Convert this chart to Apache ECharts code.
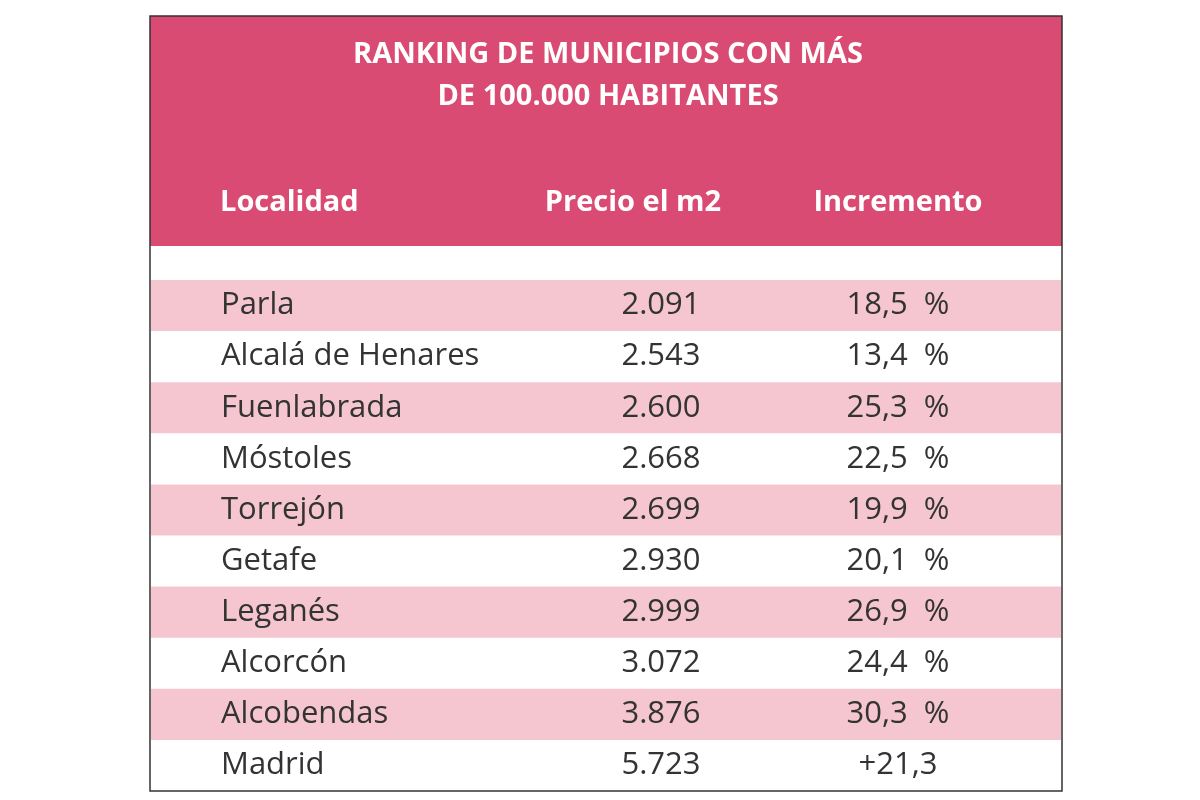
<!DOCTYPE html>
<html lang="es">
<head>
<meta charset="UTF-8">
<title>Ranking de municipios</title>
<script src="https://cdn.jsdelivr.net/npm/echarts@6/dist/echarts.min.js"></script>
<style>
  body { margin: 0; background: #fff; }
  #chart { width: 1200px; height: 800px; }
</style>
</head>
<body>
<div id="chart"></div>
<script>
const titleText = 'RANKING DE MUNICIPIOS CON MÁS\nDE 100.000 HABITANTES';
const headers = ['Localidad', 'Precio el m2', 'Incremento'];
const localidades = ['Parla', 'Alcalá de Henares', 'Fuenlabrada', 'Móstoles', 'Torrejón',
  'Getafe', 'Leganés', 'Alcorcón', 'Alcobendas', 'Madrid'];
const precios = ['2.091', '2.543', '2.600', '2.668', '2.699', '2.930', '2.999', '3.072', '3.876', '5.723'];
const incrementos = ['18,5  %', '13,4  %', '25,3  %', '22,5  %', '19,9  %', '20,1  %',
  '26,9  %', '24,4  %', '30,3  %', '+21,3'];

const chart = echarts.init(document.getElementById('chart'));
const font = '"Open Sans", sans-serif';

chart.setOption({
  animation: false,
  grid: { left: 151, right: 139, top: 280, bottom: 9 },
  xAxis: { type: 'value', min: 0, max: 910, show: false },
  yAxis: { type: 'category', data: localidades, inverse: true, show: false },
  graphic: [
    { type: 'rect', shape: { x: 150, y: 16, width: 912, height: 230 }, style: { fill: '#DA4B73' } },
    { type: 'text', x: 608, y: 76, style: { text: titleText, fill: '#fff', font: 'bold 29px ' + font,
      align: 'center', verticalAlign: 'middle', lineHeight: 42 } },
    { type: 'text', x: 220, y: 203, style: { text: headers[0], fill: '#fff', font: 'bold 29px ' + font, verticalAlign: 'middle' } },
    { type: 'text', x: 633, y: 203, style: { text: headers[1], fill: '#fff', font: 'bold 29px ' + font, align: 'center', verticalAlign: 'middle' } },
    { type: 'text', x: 898, y: 203, style: { text: headers[2], fill: '#fff', font: 'bold 29px ' + font, align: 'center', verticalAlign: 'middle' } },
    { type: 'rect', z: 100, shape: { x: 150, y: 16, width: 912, height: 775 },
      style: { fill: 'none', stroke: '#333', lineWidth: 1.5 } }
  ],
  series: [{
    type: 'custom',
    data: localidades.map((n, i) => [0, i]),
    encode: { x: 0, y: 1 },
    renderItem: function (params, api) {
      const i = api.value(1);
      const c = api.coord([0, i]);
      const h = api.size([0, 1])[1];
      const w = api.size([910, 0])[0];
      const children = [];
      if (i % 2 === 0) {
        children.push({ type: 'rect', shape: { x: c[0], y: c[1] - h / 2, width: w, height: h },
          style: { fill: '#F5C6CF' } });
      }
      const txt = (x, s, align) => ({
        type: 'text', x: api.coord([x, i])[0], y: c[1],
        style: { text: s, fill: '#333', font: '31px ' + font, align: align, verticalAlign: 'middle' }
      });
      children.push(txt(70, localidades[i], 'left'));
      children.push(txt(510, precios[i], 'center'));
      children.push(txt(747, incrementos[i], 'center'));
      return { type: 'group', children: children };
    }
  }]
});
</script>
</body>
</html>
